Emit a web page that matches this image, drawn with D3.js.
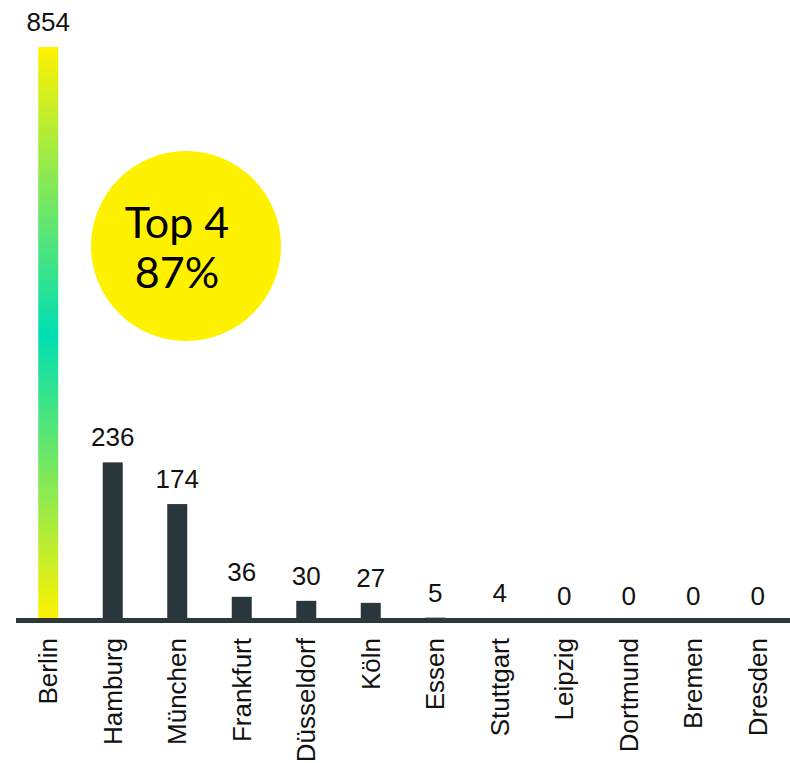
<!DOCTYPE html>
<html>
<head>
<meta charset="utf-8">
<script src="https://cdn.jsdelivr.net/npm/d3@7/dist/d3.min.js"></script>
<style>
  html, body { margin: 0; padding: 0; background: #fff; }
  svg { display: block; }
</style>
</head>
<body>
<svg id="chart" width="790" height="763"></svg>
<script>
// Cities and their counts
const cities = ["Berlin", "Hamburg", "München", "Frankfurt", "Düsseldorf", "Köln",
                "Essen", "Stuttgart", "Leipzig", "Dortmund", "Bremen", "Dresden"];
const counts = [854, 236, 174, 36, 30, 27, 5, 4, 0, 0, 0, 0];
const badgeLines = ["Top 4", "87%"];

const W = 790, H = 763;
const baseY = 621;
const svg = d3.select("#chart");

const x = d3.scaleBand().domain(cities).range([16, 790]).paddingInner(0.69).paddingOuter(0.345);
const y = d3.scaleLinear().domain([0, 854]).range([baseY, 47]);

// Gradient for the leading bar
const defs = svg.append("defs");
const grad = defs.append("linearGradient")
  .attr("id", "leadGrad").attr("x1", 0).attr("y1", 0).attr("x2", 0).attr("y2", 1);
grad.append("stop").attr("offset", "0%").attr("stop-color", "#fff200");
grad.append("stop").attr("offset", "50%").attr("stop-color", "#00dfb3");
grad.append("stop").attr("offset", "100%").attr("stop-color", "#fff200");

const data = cities.map((c, i) => ({ city: c, value: counts[i], i }));

// Bars
svg.append("g").selectAll("rect").data(data).join("rect")
  .attr("x", d => x(d.city))
  .attr("width", x.bandwidth())
  .attr("y", d => y(d.value))
  .attr("height", d => baseY - y(d.value))
  .attr("fill", d => d.i === 0 ? "url(#leadGrad)" : "#29363c");

// Baseline drawn over the bar feet
svg.append("rect")
  .attr("x", 16).attr("y", 618).attr("width", W - 16).attr("height", 5)
  .attr("fill", "#2b383e");

// Value labels
svg.append("g").selectAll("text").data(data).join("text")
  .attr("x", d => x(d.city) + x.bandwidth() / 2)
  .attr("y", d => y(d.value) - 16)
  .attr("text-anchor", "middle")
  .attr("font-family", "'Liberation Sans', Arial, sans-serif")
  .attr("font-size", 26)
  .attr("fill", "#111")
  .text(d => d.value);

// Category labels (rotated)
svg.append("g").selectAll("text").data(data).join("text")
  .attr("transform", d => `translate(${x(d.city) + x.bandwidth() / 2},638) rotate(-90)`)
  .attr("dy", "0.35em")
  .attr("text-anchor", "end")
  .attr("font-family", "'Liberation Sans', Arial, sans-serif")
  .attr("font-size", 26)
  .attr("fill", "#111")
  .text(d => d.city);

// Badge
const badge = svg.append("g");
badge.append("circle").attr("cx", 186).attr("cy", 246).attr("r", 95).attr("fill", "#fff200");
badge.selectAll("text").data(badgeLines).join("text")
  .attr("x", 177)
  .attr("y", (d, i) => 238 + i * 50)
  .attr("text-anchor", "middle")
  .attr("font-family", "Lato, sans-serif")
  .attr("font-weight", 400)
  .attr("font-size", 43)
  .attr("fill", "#000")
  .text(d => d);
</script>
</body>
</html>
